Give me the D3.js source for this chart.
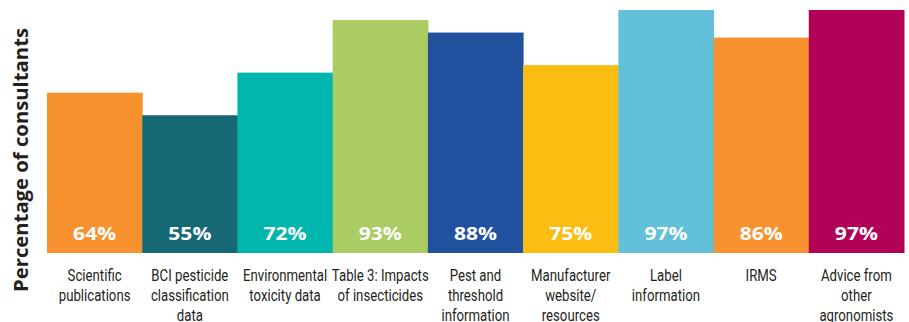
<!DOCTYPE html>
<html><head><meta charset="utf-8">
<script src="https://cdn.jsdelivr.net/npm/d3@7"></script>
<style>body{margin:0;background:#fff}svg{display:block}</style>
</head><body>
<script>
const categories = [
  ["Scientific","publications"],
  ["BCI pesticide","classification","data"],
  ["Environmental","toxicity data"],
  ["Table 3: Impacts","of insecticides"],
  ["Pest and","threshold","information"],
  ["Manufacturer","website/","resources"],
  ["Label","information"],
  ["IRMS"],
  ["Advice from","other","agronomists"]
];
const values = [64, 55, 72, 93, 88, 75, 97, 86, 97];
const colors = ["#F7922F","#156874","#00B6AD","#AACC62","#2251A0","#FBBD12","#62C0D9","#F7922F","#B10257"];
const yTitle = "Percentage of consultants";

const W = 909, H = 322;
const svg = d3.select("body").append("svg").attr("width", W).attr("height", H);

const x = d3.scaleBand().domain(d3.range(values.length)).range([47, 904]).padding(0);
const y = d3.scaleLinear().domain([0, 100]).range([253, 2.5]);

svg.selectAll("rect.bar").data(values).join("rect")
  .attr("class","bar")
  .attr("x", (d,i) => x(i))
  .attr("width", x.bandwidth() + 0.5)
  .attr("y", d => y(d))
  .attr("height", d => y(0) - y(d))
  .attr("fill", (d,i) => colors[i]);

svg.selectAll("text.val").data(values).join("text")
  .attr("class","val")
  .attr("transform", (d,i) => `translate(${x(i) + x.bandwidth()/2},240) scale(1.17,1)`)
  .attr("text-anchor","middle")
  .attr("font-family","'Open Sans', sans-serif")
  .attr("font-weight", 700)
  .attr("font-size", 18)
  .attr("fill","#fff")
  .text(d => d + "%");

const labels = svg.selectAll("text.cat").data(categories).join("text")
  .attr("class","cat")
  .attr("transform", (d,i) => `translate(${x(i) + x.bandwidth()/2},281) scale(0.8,1)`)
  .attr("text-anchor","middle")
  .attr("font-family","Roboto, sans-serif")
  .attr("font-size", 16.5)
  .attr("fill","#231F20");
labels.selectAll("tspan").data(d => d).join("tspan")
  .attr("x", 0)
  .attr("dy", (d,j) => j === 0 ? 0 : 20)
  .text(d => d);

svg.append("text")
  .attr("transform", "translate(28,160) rotate(-90)")
  .attr("text-anchor","middle")
  .attr("font-family","'Open Sans', sans-serif")
  .attr("font-weight", 700)
  .attr("font-size", 20)
  .attr("fill","#231F20")
  .attr("textLength", 264)
  .attr("lengthAdjust","spacingAndGlyphs")
  .text(yTitle);
</script>
</body></html>
